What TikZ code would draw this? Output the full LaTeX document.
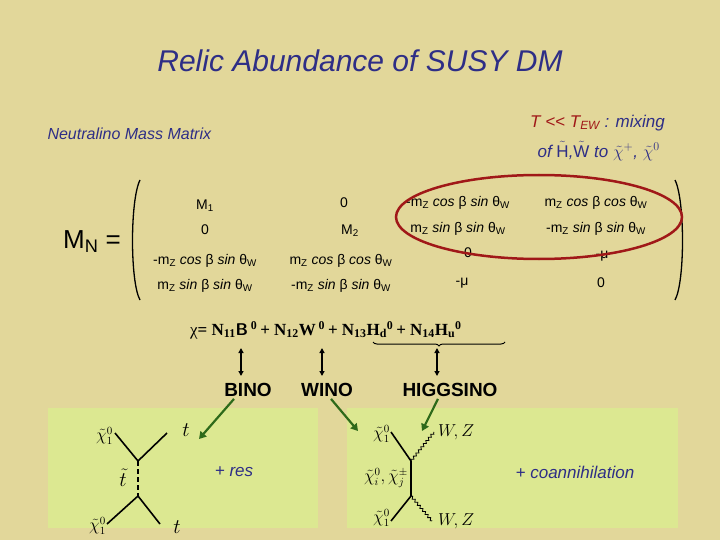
\documentclass[tikz,border=0pt]{standalone}
\usepackage{fontspec}
\setmainfont{Liberation Sans}
\newfontfamily\serifx{Liberation Serif}
\usetikzlibrary{decorations.pathmorphing,decorations.pathreplacing,arrows.meta}
\definecolor{bgtan}{HTML}{E2D79A}
\definecolor{boxgreen}{HTML}{DCE891}
\definecolor{navy}{HTML}{2E2E86}
\definecolor{darkred}{HTML}{A01818}
\definecolor{arrgreen}{HTML}{2E6A1A}
\tikzset{
 ent/.style={font=\fontsize{14}{16}\selectfont, inner sep=0pt},
 lab/.style={font=\fontsize{19}{22}\selectfont\bfseries, inner sep=0pt},
 garrow/.style={draw=arrgreen, line width=2.2pt, -{Triangle[length=7pt,width=8pt]}},
 darrow/.style={line width=1.3pt, {Triangle[length=5pt,width=5pt]}-{Triangle[length=5pt,width=5pt]}},
 fline/.style={line width=1.6pt},
 wavy/.style={decorate, decoration={snake, amplitude=1.2pt, segment length=4pt}, line width=0.8pt},
 feyn/.style={font=\serifx\itshape\fontsize{16}{18}\selectfont, inner sep=0pt},
}
\newcommand{\ctil}{\tilde{\chi}}
\begin{document}
\begin{tikzpicture}[x=1pt,y=-1pt]
\fill[bgtan] (0,0) rectangle (720,540);
\useasboundingbox (0,0) rectangle (720,540);
\node[font=\fontsize{30}{34}\selectfont\itshape, text=navy] (title) at (360,61) {Relic Abundance of SUSY DM};
\node[font=\fontsize{16}{18}\selectfont\itshape, text=navy, anchor=west] (nmm) at (44,134) {Neutralino Mass Matrix};
\node[font=\fontsize{17}{19}\selectfont\itshape, anchor=east, inner sep=0pt] (t1) at (665,123) {\textcolor{darkred}{T {<}{<} T\textsubscript{EW}} \textcolor{navy}{: mixing}};
\node[font=\fontsize{17}{19}\selectfont\itshape, text=navy, anchor=east, inner sep=0pt] (t2) at (660,151) {of $\tilde{\mathrm{H}}$,$\tilde{\mathrm{W}}$ to $\tilde\chi^{+}$, $\tilde\chi^{0}$};
% matrix
\node[font=\fontsize{26}{30}\selectfont, inner sep=0pt] (mn) at (92,242) {M\textsubscript{N} =};
\draw[line width=1.3pt] (140,180) .. controls (130,200) and (130,282) .. (140,300);
\draw[line width=1.3pt] (675,180) .. controls (685,200) and (685,282) .. (675,300);
\node[ent] (a11) at (205,206) {M\textsubscript{1}};
\node[ent] (a12) at (344,203) {0};
\node[ent] (a13) at (458,203) {-m\textsubscript{Z} \textit{cos} β \textit{sin} θ\textsubscript{W}};
\node[ent] (a14) at (596,203) {m\textsubscript{Z} \textit{cos} β \textit{cos} θ\textsubscript{W}};
\node[ent] (a21) at (205,230) {0};
\node[ent] (a22) at (350,231) {M\textsubscript{2}};
\node[ent] (a23) at (458,229) {m\textsubscript{Z} \textit{sin} β \textit{sin} θ\textsubscript{W}};
\node[ent] (a24) at (596,229) {-m\textsubscript{Z} \textit{sin} β \textit{sin} θ\textsubscript{W}};
\node[ent] (a31) at (205,261) {-m\textsubscript{Z} \textit{cos} β \textit{sin} θ\textsubscript{W}};
\node[ent] (a32) at (341,261) {m\textsubscript{Z} \textit{cos} β \textit{cos} θ\textsubscript{W}};
\node[ent] (a33) at (468,253) {0};
\node[ent] (a34) at (602,256) {-μ};
\node[ent] (a41) at (205,286) {m\textsubscript{Z} \textit{sin} β \textit{sin} θ\textsubscript{W}};
\node[ent] (a42) at (341,286) {-m\textsubscript{Z} \textit{sin} β \textit{sin} θ\textsubscript{W}};
\node[ent] (a43) at (462,283) {-μ};
\node[ent] (a44) at (601,283) {0};
\draw[darkred, line width=2.5pt] (539,217) ellipse (143 and 42);
% chi equation
\node[font=\serifx\bfseries\fontsize{17}{19}\selectfont, inner sep=0pt, anchor=west] (eq) at (190,330) {\textmd{χ}= N\textsubscript{11}\textsf{B}\,\textsuperscript{0}\,+ N\textsubscript{12}W\,\textsuperscript{0}\,+ N\textsubscript{13}H\textsubscript{d}\textsuperscript{0}\,+ N\textsubscript{14}H\textsubscript{u}\textsuperscript{0}};
\coordinate (ub1) at (373,342);
\coordinate (ub2) at (505,342);
\draw[line width=1pt, decorate, decoration={brace, mirror, amplitude=4pt}] (ub1) -- (ub2);
\node[lab] (bino) at (248,390) {BINO};
\node[lab] (wino) at (327,390) {WINO};
\node[lab] (higg) at (450,390) {HIGGSINO};
\coordinate (d1) at (241,348); \coordinate (e1) at (241,376);
\coordinate (d2) at (322,348); \coordinate (e2) at (322,376);
\coordinate (d3) at (437,348); \coordinate (e3) at (437,376);
\draw[darrow] (d1) -- (e1);
\draw[darrow] (d2) -- (e2);
\draw[darrow] (d3) -- (e3);
% green boxes
\fill[boxgreen] (48,408) rectangle (318,528);
\fill[boxgreen] (347,408) rectangle (678,528);
% left diagram
\coordinate (v1) at (138,461); \coordinate (v2) at (138,496);
\coordinate (p1) at (115,433); \coordinate (p2) at (167,433);
\coordinate (p3) at (107,524); \coordinate (p4) at (160,524);
\draw[fline] (p1) -- (v1) -- (p2);
\draw[fline] (p3) -- (v2) -- (p4);
\draw[fline, dash pattern=on 5pt off 3pt] (v1) -- (v2);
\node[feyn, anchor=east] (l1) at (113,436) {$\ctil^0_1$};
\node[feyn, anchor=east] (l2) at (106,526) {$\ctil^0_1$};
\node[feyn, font=\serifx\itshape\fontsize{22}{24}\selectfont] (l3) at (123,478) {$\tilde t$};
\node[feyn, font=\serifx\itshape\fontsize{22}{24}\selectfont] (l4) at (186,430) {$t$};
\node[feyn, font=\serifx\itshape\fontsize{22}{24}\selectfont] (l5) at (177,527) {$t$};
\node[font=\fontsize{17}{19}\selectfont\itshape, text=navy] (res) at (234,472) {+ res};
% right diagram
\coordinate (w1) at (411,461); \coordinate (w2) at (411,496);
\coordinate (q1) at (391,432); \coordinate (q2) at (434,432);
\coordinate (q3) at (391,521); \coordinate (q4) at (432,521);
\draw[fline] (q1) -- (w1) -- (w2) -- (q3);
\draw[wavy] (w1) -- (q2);
\draw[wavy] (w2) -- (q4);
\node[feyn, anchor=east] (r1) at (390,434) {$\ctil^0_1$};
\node[feyn, anchor=east] (r2) at (408,478) {$\ctil^0_i,\ctil^{\pm}_j$};
\node[feyn, anchor=east] (r3) at (390,518) {$\ctil^0_1$};
\node[feyn, anchor=west] (r4) at (438,432) {$W,Z$};
\node[feyn, anchor=west] (r5) at (438,521) {$W,Z$};
\node[font=\fontsize{17}{19}\selectfont\itshape, text=navy] (coan) at (575,472) {+ coannihilation};
% green arrows
\draw[garrow] (bino.south) ++(-14,2) coordinate (g1) -- (199,439);
\draw[garrow] (wino.south) ++(4,2) coordinate (g2) -- (358,431);
\draw[garrow] (higg.south) ++(-12,2) coordinate (g3) -- (422,431);
\end{tikzpicture}
\end{document}
